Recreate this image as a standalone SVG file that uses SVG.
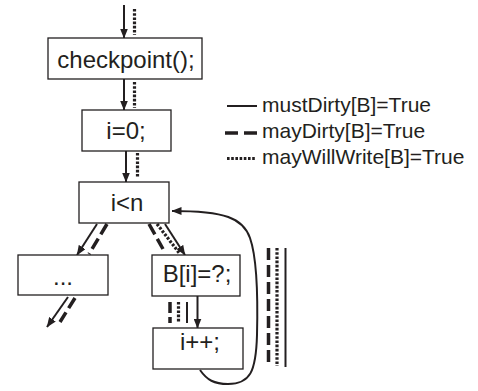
<svg xmlns="http://www.w3.org/2000/svg" width="478" height="391" viewBox="0 0 478 391">
  <defs>
    <marker id="ah" viewBox="0 0 10 8" refX="9.5" refY="4" markerWidth="10" markerHeight="8" markerUnits="userSpaceOnUse" orient="auto">
      <path d="M0,0 L10,4 L0,8 z" fill="#231f20"/>
    </marker>
    <style>
      .box { fill: #ffffff; stroke: #231f20; stroke-width: 1.3; }
      .lbl { font-family: "Liberation Sans", Arial, sans-serif; font-size: 24px; fill: #231f20; text-anchor: middle; }
      .leg { font-family: "Liberation Sans", Arial, sans-serif; font-size: 21px; fill: #231f20; }
      .must { fill: none; stroke: #231f20; stroke-width: 2; }
      .may { fill: none; stroke: #231f20; stroke-width: 3.5; stroke-dasharray: 12 5; }
      .will { fill: none; stroke: #231f20; stroke-width: 3.2; stroke-dasharray: 2.6 1.6; }
    </style>
  </defs>

  <rect width="478" height="391" fill="#ffffff"/>

  <!-- connectors -->
  <g id="connectors">
    <!-- entry -->
    <line class="must" x1="124" y1="5" x2="124" y2="38" marker-end="url(#ah)"/>
    <line class="will" x1="134.5" y1="9" x2="134.5" y2="35"/>
    <!-- checkpoint -> i=0 -->
    <line class="must" x1="124" y1="79" x2="124" y2="110" marker-end="url(#ah)"/>
    <line class="will" x1="134.5" y1="82" x2="134.5" y2="108"/>
    <!-- i=0 -> i<n -->
    <line class="must" x1="126" y1="151" x2="126" y2="182" marker-end="url(#ah)"/>
    <line class="will" x1="137.5" y1="153" x2="137.5" y2="178"/>
    <!-- i<n -> ... -->
    <line class="must" x1="97" y1="224" x2="77" y2="255" marker-end="url(#ah)"/>
    <line class="may" x1="107" y1="224" x2="89" y2="254"/>
    <!-- i<n -> B[i]=?; -->
    <line class="may" x1="149" y1="224" x2="163" y2="249"/>
    <line class="will" x1="157" y1="224" x2="180" y2="254"/>
    <line class="must" x1="165" y1="224" x2="185" y2="255" marker-end="url(#ah)"/>
    <!-- ... -> exit -->
    <line class="must" x1="68" y1="297" x2="47" y2="327" marker-end="url(#ah)"/>
    <line class="may" x1="75" y1="298" x2="60" y2="322"/>
    <!-- B[i]=?; -> i++; -->
    <line class="must" x1="197.5" y1="296" x2="197.5" y2="328" marker-end="url(#ah)"/>
    <line class="must" x1="187" y1="302" x2="187" y2="323"/>
    <line class="will" x1="178.5" y1="302" x2="178.5" y2="323"/>
    <line class="may" x1="170" y1="302" x2="170" y2="323" style="stroke-dasharray: 11 4"/>
    <!-- back edge i++; -> i<n -->
    <path class="must" d="M200,370 C207,380 214,384 228,384 C250,384 256,372 257,335 C258,295 257,258 250,238 C243,218 225,211 172,211" marker-end="url(#ah)"/>
    <!-- loop annotation -->
    <line class="may" x1="268.5" y1="248" x2="268.5" y2="366"/>
    <line class="will" x1="277" y1="248" x2="277" y2="366"/>
    <line class="must" x1="285.5" y1="248" x2="285.5" y2="367"/>
  </g>

  <!-- nodes -->
  <g id="n-checkpoint">
    <rect class="box" x="48" y="38" width="154" height="41"/>
    <text class="lbl" x="126" y="68">checkpoint();</text>
  </g>
  <g id="n-init">
    <rect class="box" x="82" y="110" width="89" height="41"/>
    <text class="lbl" x="126" y="139">i=0;</text>
  </g>
  <g id="n-cond">
    <rect class="box" x="79" y="182" width="90" height="41"/>
    <text class="lbl" x="127" y="211">i&lt;n</text>
  </g>
  <g id="n-rest">
    <rect class="box" x="18" y="255" width="90" height="40"/>
    <text class="lbl" x="63" y="285">...</text>
  </g>
  <g id="n-write">
    <rect class="box" x="152" y="255" width="88" height="41"/>
    <text class="lbl" x="197" y="282">B[i]=?;</text>
  </g>
  <g id="n-incr">
    <rect class="box" x="153" y="328" width="90" height="41"/>
    <text class="lbl" x="200" y="350">i++;</text>
  </g>

  <!-- legend -->
  <g id="legend">
    <line class="must" x1="227" y1="106" x2="257" y2="106"/>
    <text class="leg" x="262" y="111.5">mustDirty[B]=True</text>
    <line class="may" x1="225" y1="133" x2="257" y2="133" style="stroke-dasharray: 13 6"/>
    <text class="leg" x="262" y="138">mayDirty[B]=True</text>
    <line class="will" x1="227" y1="158.5" x2="256" y2="158.5"/>
    <text class="leg" x="262" y="163.5">mayWillWrite[B]=True</text>
  </g>
</svg>
